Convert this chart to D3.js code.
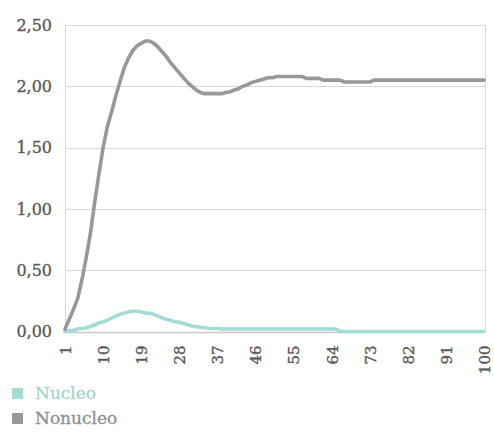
<!DOCTYPE html>
<html>
<head>
<meta charset="utf-8">
<script src="https://cdn.jsdelivr.net/npm/d3@7"></script>
<style>
  html, body { margin: 0; padding: 0; background: #fff; }
  svg { display: block; }
  text { font-family: "DejaVu Serif", serif; }
</style>
</head>
<body>
<svg id="chart" width="494" height="432"></svg>
<script>
// Category axis: observation index 1..100
const categories = d3.range(1, 101);

// Labelled positions on the x axis
const xTickLabels = [1, 10, 19, 28, 37, 46, 55, 64, 73, 82, 91, 100];

// Y axis ticks
const yTicks = [0, 0.5, 1.0, 1.5, 2.0, 2.5];

const seriesNames = ["Nucleo", "Nonucleo"];
const seriesColors = ["#a3dcd3", "#98989c"];

const nucleo = [
  0.00, 0.005, 0.01, 0.02, 0.025, 0.03, 0.04, 0.055, 0.07, 0.08,
  0.09, 0.11, 0.125, 0.14, 0.15, 0.16, 0.165, 0.165, 0.16, 0.15,
  0.148, 0.14, 0.125, 0.11, 0.10, 0.09, 0.08, 0.075, 0.065, 0.055,
  0.045, 0.04, 0.035, 0.03, 0.027, 0.025, 0.025, 0.02, 0.02, 0.02,
  0.02, 0.02, 0.02, 0.02, 0.02, 0.02, 0.02, 0.02, 0.02, 0.02,
  0.02, 0.02, 0.02, 0.02, 0.02, 0.02, 0.02, 0.02, 0.02, 0.02,
  0.02, 0.02, 0.02, 0.02, 0.02, 0.00, 0.00, 0.00, 0.00, 0.00,
  0.00, 0.00, 0.00, 0.00, 0.00, 0.00, 0.00, 0.00, 0.00, 0.00,
  0.00, 0.00, 0.00, 0.00, 0.00, 0.00, 0.00, 0.00, 0.00, 0.00,
  0.00, 0.00, 0.00, 0.00, 0.00, 0.00, 0.00, 0.00, 0.00, 0.00
];

const nonucleo = [
  0.02, 0.10, 0.18, 0.27, 0.42, 0.60, 0.80, 1.05, 1.28, 1.50,
  1.67, 1.79, 1.92, 2.04, 2.15, 2.23, 2.29, 2.33, 2.35, 2.37,
  2.37, 2.35, 2.32, 2.28, 2.24, 2.19, 2.15, 2.11, 2.07, 2.03,
  2.00, 1.97, 1.95, 1.94, 1.94, 1.94, 1.94, 1.94, 1.95, 1.955,
  1.97, 1.98, 2.00, 2.01, 2.03, 2.04, 2.05, 2.06, 2.07, 2.07,
  2.08, 2.08, 2.08, 2.08, 2.08, 2.08, 2.08, 2.065, 2.065, 2.065,
  2.065, 2.05, 2.05, 2.05, 2.05, 2.05, 2.035, 2.035, 2.035, 2.035,
  2.035, 2.035, 2.035, 2.05, 2.05, 2.05, 2.05, 2.05, 2.05, 2.05,
  2.05, 2.05, 2.05, 2.05, 2.05, 2.05, 2.05, 2.05, 2.05, 2.05,
  2.05, 2.05, 2.05, 2.05, 2.05, 2.05, 2.05, 2.05, 2.05, 2.05
];

const series = [nucleo, nonucleo];

const svg = d3.select("#chart");
const plot = { left: 65, right: 484, top: 25, bottom: 331.5 };

const x = d3.scalePoint().domain(categories).range([plot.left, plot.right]);
const y = d3.scaleLinear().domain([0, 2.5]).range([plot.bottom, plot.top]);

const fmt = v => d3.format(".2f")(v).replace(".", ",");

// Horizontal gridlines
svg.append("g")
  .selectAll("line")
  .data(yTicks.filter(d => d > 0))
  .join("line")
  .attr("x1", plot.left).attr("x2", plot.right + 1)
  .attr("y1", d => Math.round(y(d)) + 0.5).attr("y2", d => Math.round(y(d)) + 0.5)
  .attr("stroke", "#d9d9d9").attr("stroke-width", 1);

// Plot area sides
svg.append("line")
  .attr("x1", plot.left + 0.5).attr("x2", plot.left + 0.5)
  .attr("y1", y(2.5)).attr("y2", plot.bottom)
  .attr("stroke", "#d9d9d9");
svg.append("line")
  .attr("x1", plot.right + 1.5).attr("x2", plot.right + 1.5)
  .attr("y1", y(2.5)).attr("y2", plot.bottom)
  .attr("stroke", "#d9d9d9");

// Y axis labels
const yAxis = d3.axisLeft(y).tickValues(yTicks).tickFormat(fmt).tickSize(0).tickPadding(13);
const gy = svg.append("g").attr("transform", `translate(${plot.left},0)`).call(yAxis);
gy.select(".domain").remove();
gy.selectAll("text")
  .attr("font-family", "DejaVu Serif, serif")
  .attr("font-size", 16)
  .attr("fill", "#595959")
  .attr("stroke", "#595959")
  .attr("stroke-width", 0.35);

// X axis (category line along zero)
const xAxis = d3.axisBottom(x).tickValues(xTickLabels).tickSize(0).tickPadding(0);
const gx = svg.append("g").attr("transform", `translate(0,${Math.round(plot.bottom) + 0.5})`).call(xAxis);
gx.select(".domain").attr("stroke", "#c8c8c8").attr("stroke-width", 1.5)
  .attr("d", `M${plot.left},0H${plot.right + 1}`);
gx.selectAll("text")
  .attr("font-family", "DejaVu Serif, serif")
  .attr("font-size", 15)
  .attr("fill", "#595959")
  .attr("stroke", "#595959")
  .attr("stroke-width", 0.35)
  .attr("text-anchor", "end")
  .attr("transform", "translate(0,13) rotate(-90)")
  .attr("x", 0).attr("y", 0).attr("dy", "0.36em");

// Series lines
const line = d3.line()
  .x((d, i) => x(categories[i]))
  .y(d => y(d));

svg.append("g")
  .selectAll("path")
  .data(series)
  .join("path")
  .attr("d", d => line(d))
  .attr("fill", "none")
  .attr("stroke", (d, i) => seriesColors[i])
  .attr("stroke-width", 3.6)
  .attr("stroke-linejoin", "round")
  .attr("stroke-linecap", "round");

// Legend
const legendText = ["#9fd6cd", "#8e8e92"];
const legend = svg.append("g").selectAll("g")
  .data(seriesNames)
  .join("g")
  .attr("transform", (d, i) => `translate(12,${388 + i * 25})`);
legend.append("rect")
  .attr("width", 11).attr("height", 11)
  .attr("fill", (d, i) => seriesColors[i]);
legend.append("text")
  .attr("x", 23).attr("y", 10.5)
  .attr("font-size", 17)
  .attr("fill", (d, i) => legendText[i])
  .attr("stroke", (d, i) => legendText[i])
  .attr("stroke-width", 0.3)
  .text(d => d);
</script>
</body>
</html>
